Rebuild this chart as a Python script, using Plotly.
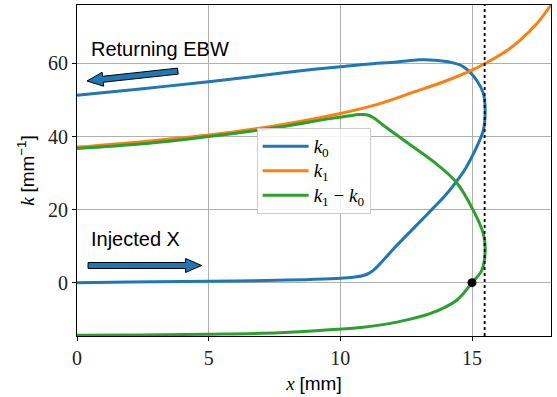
import plotly.graph_objects as go

# ---- data ----
k0_x = [0, 2, 4, 6, 8, 9, 10, 10.5, 10.85, 11.1, 11.35, 11.7, 12.0, 12.5, 13.0, 13.5, 14.0,
        14.4, 14.75, 15.0, 15.2, 15.43, 15.5, 15.43, 15.18, 14.67, 14.2, 13.6, 13.0, 12.14, 11,
        10, 8.5, 7, 5, 2.5, 0]
k0_y = [0, 0.15, 0.3, 0.45, 0.7, 0.9, 1.2, 1.5, 1.9, 2.6, 4.0, 6.7, 9.1, 12.8, 16.5, 20.2, 24.0,
        27.6, 31.2, 34.5, 37.5, 41.7, 47.2, 51.8, 55.4, 59.1, 60.3, 60.9, 61.0, 60.4, 59.8,
        59.1, 58.0, 56.7, 55.0, 53.1, 51.3]

k1_x = [0, 2.5, 5, 7.5, 10, 11.5, 12.8, 14, 15, 15.5, 16.2, 16.8, 17.45, 18]
k1_y = [37.1, 38.6, 40.4, 42.9, 46.3, 49.0, 52.2, 55.2, 58.2, 60.0, 62.9, 66.2, 70.8, 76.0]

dk_x = [0, 2.5, 5, 7.7, 9.6, 10.87, 12.14, 13.4, 14.42, 15.0, 15.37, 15.5, 15.43, 15.05, 14.39,
        13.53, 12.8, 12.14, 11.63, 11.25, 11.0, 10.7, 10.3, 9.6, 7.7, 5, 2.5, 0]
dk_y = [-14.4, -14.3, -14.1, -13.7, -12.9, -12.2, -10.8, -8.5, -4.8, 0.0, 3.4, 8.8, 13.4, 19.8,
        27.6, 33.2, 37.0, 40.4, 43.1, 45.2, 45.95, 46.0, 45.6, 44.9, 42.6, 40.0, 38.0, 36.7]

marker_pt = (15.0, 0.0)
cutoff_x = 15.48

x_range = [0, 18]
y_range = [-14.6, 76.0]
x_ticks = [0, 5, 10, 15]
y_ticks = [0, 20, 40, 60]

W, H = 557, 397
ML, MR, MT, MB = 77, 6, 5, 61
PW, PH = W - ML - MR, H - MT - MB

BLUE, ORANGE, GREEN = "#1f77b4", "#ff7f0e", "#2ca02c"
SERIF = "Liberation Serif, DejaVu Serif, serif"
SANS = "Liberation Sans, Arial, sans-serif"


def arrow_path(x0, y0, x1, y1, shaft_w=6, head_w=14, head_len=16):
    sx = PW / (x_range[1] - x_range[0])
    sy = PH / (y_range[1] - y_range[0])
    px0, py0 = x0 * sx, y0 * sy
    px1, py1 = x1 * sx, y1 * sy
    dx, dy = px1 - px0, py1 - py0
    L = (dx * dx + dy * dy) ** 0.5
    ux, uy = dx / L, dy / L
    nx, ny = -uy, ux
    bx, by = px1 - ux * head_len, py1 - uy * head_len
    pts = [
        (px0 + nx * shaft_w / 2, py0 + ny * shaft_w / 2),
        (bx + nx * shaft_w / 2, by + ny * shaft_w / 2),
        (bx + nx * head_w / 2, by + ny * head_w / 2),
        (px1, py1),
        (bx - nx * head_w / 2, by - ny * head_w / 2),
        (bx - nx * shaft_w / 2, by - ny * shaft_w / 2),
        (px0 - nx * shaft_w / 2, py0 - ny * shaft_w / 2),
    ]
    d = "M " + " L ".join(f"{px / sx:.4f},{py / sy:.4f}" for px, py in pts) + " Z"
    return d


def leg(txt):
    return f'<span style="font-size:19px">{txt}</span>'


fig = go.Figure()
fig.add_trace(go.Scatter(x=k0_x, y=k0_y, mode="lines", name=leg("<i>k</i><sub>0</sub>"),
                         line=dict(color=BLUE, width=3, shape="spline", smoothing=1.0)))
fig.add_trace(go.Scatter(x=k1_x, y=k1_y, mode="lines", name=leg("<i>k</i><sub>1</sub>"),
                         line=dict(color=ORANGE, width=3, shape="spline", smoothing=1.0)))
fig.add_trace(go.Scatter(x=dk_x, y=dk_y, mode="lines",
                         name=leg("<i>k</i><sub>1</sub> − <i>k</i><sub>0</sub>"),
                         line=dict(color=GREEN, width=3, shape="spline", smoothing=1.0)))
fig.add_trace(go.Scatter(x=[marker_pt[0]], y=[marker_pt[1]], mode="markers", showlegend=False,
                         marker=dict(color="black", size=9)))

fig.add_shape(type="line", x0=cutoff_x, x1=cutoff_x, y0=0, y1=1, xref="x", yref="paper",
              line=dict(color="black", width=1.8, dash="dot"))

fig.add_shape(type="path", path=arrow_path(3.83, 57.9, 0.38, 55.2), xref="x", yref="y",
              fillcolor=BLUE, line=dict(color="black", width=1))
fig.add_shape(type="path", path=arrow_path(0.42, 4.7, 4.73, 4.7), xref="x", yref="y",
              fillcolor=BLUE, line=dict(color="black", width=1))

fig.add_annotation(x=0.45, y=63.9, text="Returning EBW", showarrow=False, xanchor="left",
                   yanchor="middle", font=dict(family=SANS, size=20, color="black"))
fig.add_annotation(x=0.45, y=11.9, text="Injected X", showarrow=False, xanchor="left",
                   yanchor="middle", font=dict(family=SANS, size=20, color="black"))

axis_common = dict(showgrid=True, gridcolor="#b0b0b0", gridwidth=0.8, zeroline=False,
                   showline=True, linecolor="black", linewidth=1, mirror=True,
                   ticks="outside", ticklen=4, tickcolor="black", automargin=False,
                   tickfont=dict(family=SERIF, size=20, color="#222"))

fig.update_layout(
    width=W, height=H,
    margin=dict(l=ML, r=MR, t=MT, b=MB),
    paper_bgcolor="white", plot_bgcolor="white",
    xaxis=dict(range=x_range, tickvals=x_ticks, **axis_common,
               title=dict(text=f'<i>x</i> <span style="font-family:{SANS}">[mm]</span>',
                          font=dict(family=SERIF, size=19, color="black"), standoff=8)),
    yaxis=dict(range=y_range, tickvals=y_ticks, **axis_common,
               title=dict(text=f'<i>k</i> <span style="font-family:{SANS}">[mm<sup>−1</sup>]</span>',
                          font=dict(family=SERIF, size=19, color="black"), standoff=8)),
    legend=dict(x=0.379, y=0.628, xanchor="left", yanchor="top", itemwidth=46,
                bgcolor="rgba(255,255,255,0.85)", bordercolor="#cccccc", borderwidth=1,
                font=dict(family=SERIF, size=16.5, color="black"), tracegroupgap=0),
    showlegend=True,
)

fig.write_html("out.html", post_script="document.body.style.margin='0';",
               config={"displayModeBar": False})
